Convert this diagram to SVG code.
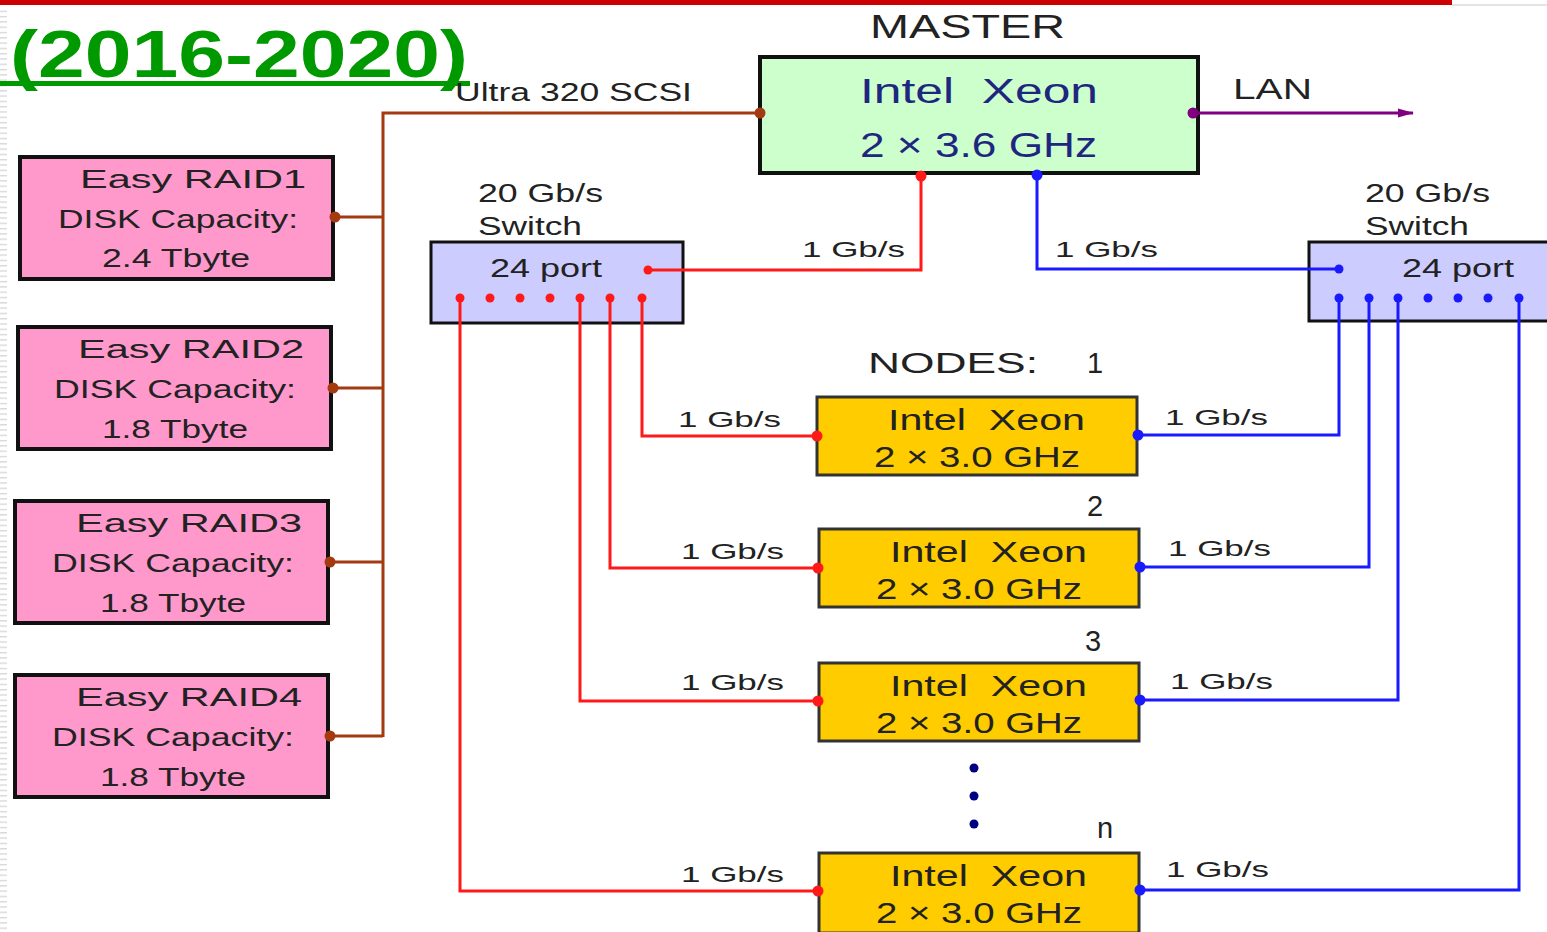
<svg xmlns="http://www.w3.org/2000/svg" width="1547" height="932" viewBox="0 0 1547 932">
<style>
text{font-family:"Liberation Sans",Arial,sans-serif;fill:#222;white-space:pre}
.t{font-size:22px}
.r{font-size:26px}
.n{font-size:29px}
.m{font-size:35px;fill:#1e2680}
.box{stroke:#111;stroke-width:4}
.sw{fill:#ccccff;stroke:#111;stroke-width:3}
.nd{fill:#ffcc00;stroke:#333;stroke-width:3}
.red{stroke:#ff1a1a;stroke-width:3;fill:none}
.blue{stroke:#1a1aff;stroke-width:3;fill:none}
.brn{stroke:#a33a10;stroke-width:3;fill:none}
.dr{fill:#ff1a1a}
.db{fill:#1a1aff}
.dn{fill:#a33a10}
</style>
<defs>
<pattern id="dash" width="8" height="5.3" patternUnits="userSpaceOnUse">
<rect x="0" y="0" width="7" height="1.4" fill="#d8d8d8"/>
</pattern>
<marker id="arr" markerWidth="16" markerHeight="12" refX="15" refY="6" orient="auto" markerUnits="userSpaceOnUse">
<path d="M0,1.5 L16,6 L0,10.5 Z" fill="#800080"/>
</marker>
</defs>
<rect width="1547" height="932" fill="#fff"/>
<rect x="0" y="10" width="8" height="922" fill="url(#dash)"/>
<rect x="0" y="0" width="1452" height="5" fill="#cc0000"/>
<rect x="1452" y="4" width="95" height="2" fill="#e4e4e4"/>
<g id="title">
<text x="10" y="77" font-family="DejaVu Sans,Verdana,sans-serif" font-weight="bold" font-size="66" style="fill:#009900" textLength="458" lengthAdjust="spacingAndGlyphs">(2016-2020)</text>
<rect x="0" y="81" width="470" height="5" fill="#009900"/>
</g>
<g id="master">
<text x="870" y="38" textLength="195" lengthAdjust="spacingAndGlyphs" style="font-size:33px">MASTER</text>
<rect class="box" x="760" y="57" width="438" height="116" fill="#ccffcc"/>
<text class="m" x="860" y="103" textLength="238" lengthAdjust="spacingAndGlyphs">Intel  Xeon</text>
<text class="m" x="860" y="157" textLength="237" lengthAdjust="spacingAndGlyphs">2 × 3.6 GHz</text>
</g>
<g id="raid1">
<rect class="box" x="20" y="157" width="313" height="122" fill="#ff99cc"/>
<text class="r" x="80" y="188" textLength="226" lengthAdjust="spacingAndGlyphs">Easy RAID1</text>
<text class="r" x="58" y="228" textLength="240" lengthAdjust="spacingAndGlyphs">DISK Capacity:</text>
<text class="r" x="102" y="267" textLength="148" lengthAdjust="spacingAndGlyphs">2.4 Tbyte</text>
</g>
<g id="raid2">
<rect class="box" x="18" y="327" width="313" height="122" fill="#ff99cc"/>
<text class="r" x="78" y="358" textLength="226" lengthAdjust="spacingAndGlyphs">Easy RAID2</text>
<text class="r" x="54" y="398" textLength="242" lengthAdjust="spacingAndGlyphs">DISK Capacity:</text>
<text class="r" x="102" y="438" textLength="146" lengthAdjust="spacingAndGlyphs">1.8 Tbyte</text>
</g>
<g id="raid3">
<rect class="box" x="15" y="501" width="313" height="122" fill="#ff99cc"/>
<text class="r" x="76" y="532" textLength="226" lengthAdjust="spacingAndGlyphs">Easy RAID3</text>
<text class="r" x="52" y="572" textLength="242" lengthAdjust="spacingAndGlyphs">DISK Capacity:</text>
<text class="r" x="100" y="612" textLength="146" lengthAdjust="spacingAndGlyphs">1.8 Tbyte</text>
</g>
<g id="raid4">
<rect class="box" x="15" y="675" width="313" height="122" fill="#ff99cc"/>
<text class="r" x="76" y="706" textLength="226" lengthAdjust="spacingAndGlyphs">Easy RAID4</text>
<text class="r" x="52" y="746" textLength="242" lengthAdjust="spacingAndGlyphs">DISK Capacity:</text>
<text class="r" x="100" y="786" textLength="146" lengthAdjust="spacingAndGlyphs">1.8 Tbyte</text>
</g>
<g id="switch-left">
<text class="r" x="478" y="202" textLength="125" lengthAdjust="spacingAndGlyphs">20 Gb/s</text>
<text class="r" x="478" y="235" textLength="104" lengthAdjust="spacingAndGlyphs">Switch</text>
<rect class="sw" x="431" y="242" width="252" height="81"/>
<text class="r" x="490" y="277" textLength="112" lengthAdjust="spacingAndGlyphs">24 port</text>
</g>
<g id="switch-right">
<text class="r" x="1365" y="202" textLength="125" lengthAdjust="spacingAndGlyphs">20 Gb/s</text>
<text class="r" x="1365" y="235" textLength="104" lengthAdjust="spacingAndGlyphs">Switch</text>
<rect class="sw" x="1309" y="242" width="250" height="79"/>
<text class="r" x="1402" y="277" textLength="112" lengthAdjust="spacingAndGlyphs">24 port</text>
</g>
<g id="nodes-label">
<text x="868" y="373" textLength="170" lengthAdjust="spacingAndGlyphs" style="font-size:29px">NODES:</text>
<text x="1087" y="373" style="font-size:29px">1</text>
</g>
<g id="node1">
<rect class="nd" x="817" y="397" width="320" height="78"/>
<text class="n" x="888" y="430" textLength="197" lengthAdjust="spacingAndGlyphs">Intel  Xeon</text>
<text class="n" x="874" y="467" textLength="206" lengthAdjust="spacingAndGlyphs">2 × 3.0 GHz</text>
</g>
<g id="node2">
<text x="1087" y="516" style="font-size:29px">2</text>
<rect class="nd" x="819" y="529" width="320" height="78"/>
<text class="n" x="890" y="562" textLength="197" lengthAdjust="spacingAndGlyphs">Intel  Xeon</text>
<text class="n" x="876" y="599" textLength="206" lengthAdjust="spacingAndGlyphs">2 × 3.0 GHz</text>
</g>
<g id="node3">
<text x="1085" y="651" style="font-size:29px">3</text>
<rect class="nd" x="819" y="663" width="320" height="78"/>
<text class="n" x="890" y="696" textLength="197" lengthAdjust="spacingAndGlyphs">Intel  Xeon</text>
<text class="n" x="876" y="733" textLength="206" lengthAdjust="spacingAndGlyphs">2 × 3.0 GHz</text>
</g>
<g id="ellipsis">
<circle cx="974" cy="768" r="4.5" fill="#000080"/>
<circle cx="974" cy="796" r="4.5" fill="#000080"/>
<circle cx="974" cy="824" r="4.5" fill="#000080"/>
</g>
<g id="noden">
<text x="1097" y="838" style="font-size:29px">n</text>
<rect class="nd" x="819" y="853" width="320" height="80"/>
<text class="n" x="890" y="886" textLength="197" lengthAdjust="spacingAndGlyphs">Intel  Xeon</text>
<text class="n" x="876" y="923" textLength="206" lengthAdjust="spacingAndGlyphs">2 × 3.0 GHz</text>
</g>
<g id="connectors">
<polyline class="brn" points="760,113 383,113 383,737"/>
<line class="brn" x1="335" y1="217" x2="383" y2="217"/>
<line class="brn" x1="333" y1="388" x2="383" y2="388"/>
<line class="brn" x1="330" y1="562" x2="383" y2="562"/>
<line class="brn" x1="330" y1="736" x2="383" y2="736"/>
<line x1="1193" y1="113" x2="1413" y2="113" stroke="#800080" stroke-width="3" marker-end="url(#arr)"/>
<polyline class="red" points="921,176 921,270 648,270"/>
<polyline class="blue" points="1037,175 1037,269 1339,269"/>
<polyline class="red" points="642,298 642,436 817,436"/>
<polyline class="red" points="610,298 610,568 818,568"/>
<polyline class="red" points="580,298 580,701 818,701"/>
<polyline class="red" points="460,298 460,891 818,891"/>
<polyline class="blue" points="1339,298 1339,435 1138,435"/>
<polyline class="blue" points="1369,298 1369,567 1140,567"/>
<polyline class="blue" points="1398,298 1398,700 1140,700"/>
<polyline class="blue" points="1519,298 1519,890 1140,890"/>
<circle class="dn" cx="760" cy="113" r="5.5"/>
<circle class="dn" cx="335" cy="217" r="5.5"/>
<circle class="dn" cx="333" cy="388" r="5.5"/>
<circle class="dn" cx="330" cy="562" r="5.5"/>
<circle class="dn" cx="330" cy="736" r="5.5"/>
<circle cx="1193" cy="113" r="5.5" fill="#800080"/>
<circle class="dr" cx="921" cy="176" r="5.5"/>
<circle class="db" cx="1037" cy="175" r="5.5"/>
<circle class="dr" cx="817" cy="436" r="5.5"/>
<circle class="dr" cx="818" cy="568" r="5.5"/>
<circle class="dr" cx="818" cy="701" r="5.5"/>
<circle class="dr" cx="818" cy="891" r="5.5"/>
<circle class="db" cx="1138" cy="435" r="5.5"/>
<circle class="db" cx="1140" cy="567" r="5.5"/>
<circle class="db" cx="1140" cy="700" r="5.5"/>
<circle class="db" cx="1140" cy="890" r="5.5"/>
<circle class="dr" cx="648" cy="270" r="4.5"/>
<circle class="dr" cx="460" cy="298" r="4.5"/>
<circle class="dr" cx="490" cy="298" r="4.5"/>
<circle class="dr" cx="520" cy="298" r="4.5"/>
<circle class="dr" cx="550" cy="298" r="4.5"/>
<circle class="dr" cx="580" cy="298" r="4.5"/>
<circle class="dr" cx="610" cy="298" r="4.5"/>
<circle class="dr" cx="642" cy="298" r="4.5"/>
<circle class="db" cx="1339" cy="269" r="4.5"/>
<circle class="db" cx="1339" cy="298" r="4.5"/>
<circle class="db" cx="1369" cy="298" r="4.5"/>
<circle class="db" cx="1398" cy="298" r="4.5"/>
<circle class="db" cx="1428" cy="298" r="4.5"/>
<circle class="db" cx="1458" cy="298" r="4.5"/>
<circle class="db" cx="1488" cy="298" r="4.5"/>
<circle class="db" cx="1519" cy="298" r="4.5"/>
<text class="t" x="455" y="101" textLength="237" lengthAdjust="spacingAndGlyphs" style="font-size:25px">Ultra 320 SCSI</text>
<text x="1233" y="99" textLength="79" lengthAdjust="spacingAndGlyphs" style="font-size:30px">LAN</text>
<text class="t" x="802" y="257" textLength="103" lengthAdjust="spacingAndGlyphs">1 Gb/s</text>
<text class="t" x="1055" y="257" textLength="103" lengthAdjust="spacingAndGlyphs">1 Gb/s</text>
<text class="t" x="678" y="427" textLength="103" lengthAdjust="spacingAndGlyphs">1 Gb/s</text>
<text class="t" x="681" y="559" textLength="103" lengthAdjust="spacingAndGlyphs">1 Gb/s</text>
<text class="t" x="681" y="690" textLength="103" lengthAdjust="spacingAndGlyphs">1 Gb/s</text>
<text class="t" x="681" y="882" textLength="103" lengthAdjust="spacingAndGlyphs">1 Gb/s</text>
<text class="t" x="1165" y="425" textLength="103" lengthAdjust="spacingAndGlyphs">1 Gb/s</text>
<text class="t" x="1168" y="556" textLength="103" lengthAdjust="spacingAndGlyphs">1 Gb/s</text>
<text class="t" x="1170" y="689" textLength="103" lengthAdjust="spacingAndGlyphs">1 Gb/s</text>
<text class="t" x="1166" y="877" textLength="103" lengthAdjust="spacingAndGlyphs">1 Gb/s</text>
</g>
</svg>
